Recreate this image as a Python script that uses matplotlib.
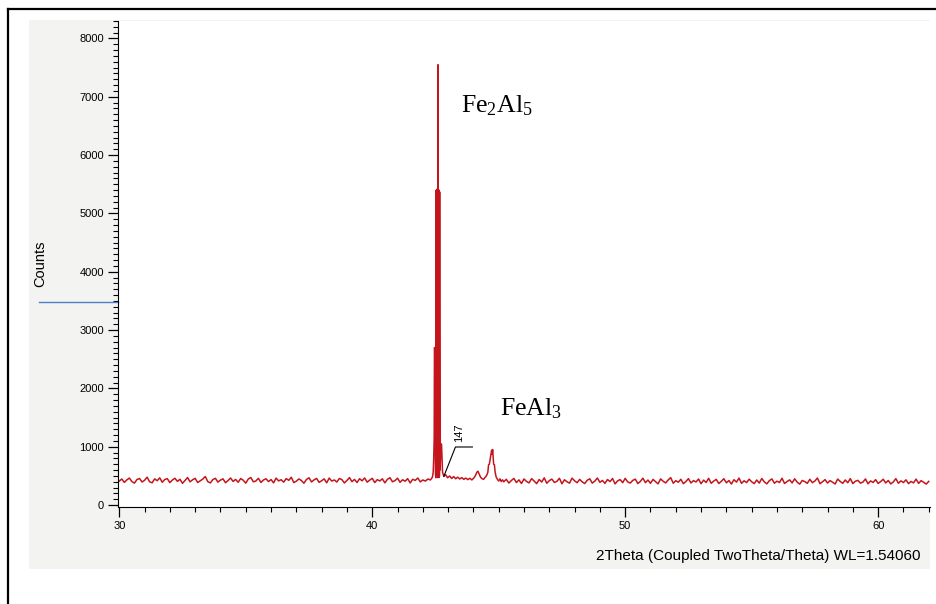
import numpy as np
import matplotlib
matplotlib.use("Agg")
from matplotlib import pyplot as plt
from matplotlib.patches import Rectangle
from matplotlib.lines import Line2D
from matplotlib.ticker import MultipleLocator

plt.rcParams['font.family'] = ['Liberation Sans', 'DejaVu Sans']
plt.rcParams['mathtext.fontset'] = 'custom'
plt.rcParams['mathtext.rm'] = 'Liberation Serif'
plt.rcParams['mathtext.it'] = 'Liberation Serif:italic'

# scan: background before main peak (30.0 .. 42.2, step 0.1)
start_a, step = 30.0, 0.1
counts_a = [
    410, 446, 388, 431, 462, 402, 376, 437, 455, 395,
    424, 478, 399, 381, 448, 417, 466, 390, 438, 452,
    384, 428, 459, 405, 441, 372, 421, 471, 398, 433,
    457, 386, 415, 444, 489, 401, 379, 436, 458, 393,
    427, 449, 382, 419, 463, 404, 439, 390, 454, 425,
    375, 445, 472, 398, 412, 458, 387, 429, 450, 402,
    437, 380, 461, 414, 434, 392, 453, 423, 476, 385,
    409, 447, 420, 374, 438, 467, 396, 431, 456, 389,
    416, 448, 381, 462, 411, 430, 394, 455, 436, 378,
    421, 470, 400, 439, 386, 451, 415, 464, 392, 427,
    457, 385, 435, 413, 449, 380, 440, 468, 399, 418,
    460, 390, 433, 408, 452, 379, 441, 422, 463, 397,
    430, 411, 446]

# peak region (Fe2Al5 at ~42.6, FeAl3 at ~44.75)
theta_peak = [42.30, 42.34, 42.38, 42.41, 42.43, 42.45, 42.46, 42.48, 42.50, 42.52,
              42.53, 42.545, 42.555, 42.565, 42.575, 42.585, 42.595, 42.60, 42.605, 42.615,
              42.625, 42.635, 42.645, 42.655, 42.665, 42.68, 42.72, 42.74, 42.78, 42.83,
              42.90, 42.98, 43.06, 43.14, 43.22, 43.30, 43.38, 43.46, 43.54, 43.62,
              43.70, 43.78, 43.86, 43.94, 44.02, 44.08, 44.14, 44.18, 44.22, 44.28,
              44.34, 44.40, 44.46, 44.52, 44.57, 44.60, 44.63, 44.66, 44.69, 44.72,
              44.74, 44.76, 44.78, 44.80, 44.83, 44.86, 44.90, 44.95, 45.00, 45.05,
              45.10, 45.15]
counts_peak = [430, 452, 478, 560, 780, 1150, 2700, 2680, 520, 470,
               5400, 480, 5410, 470, 5420, 490, 5400, 7550, 5390, 480,
               5380, 470, 5400, 490, 5370, 600, 1050, 1040, 560, 495,
               520, 468, 498, 455, 488, 450, 478, 446, 470, 440,
               462, 436, 458, 430, 466, 505, 565, 580, 540, 478,
               452, 440, 472, 505, 560, 690, 700, 780, 860, 940,
               870, 950, 820, 700, 690, 560, 480, 440, 412, 448,
               402, 432]

# background after peaks (45.2 .. 62.0, step 0.1)
start_b = 45.2
counts_b = [
    398, 441, 377, 420, 456, 385, 431, 369, 447, 404,
    380, 452, 412, 366, 438, 394, 466, 373, 418, 445,
    387, 406, 458, 364, 433, 399, 375, 461, 415, 382,
    440, 397, 368, 425, 449, 376, 410, 463, 389, 421,
    371, 437, 402, 454, 362, 414, 436, 383, 457, 396,
    377, 422, 444, 368, 405, 460, 384, 428, 372, 439,
    400, 363, 448, 408, 379, 430, 469, 374, 417, 391,
    441, 366, 403, 452, 378, 419, 395, 446, 365, 427,
    386, 458, 373, 411, 440, 369, 406, 451, 381, 420,
    360, 434, 393, 462, 371, 416, 384, 443, 399, 367,
    429, 376, 455, 397, 363, 418, 447, 374, 409, 386,
    459, 369, 403, 431, 379, 450, 392, 358, 421, 401,
    372, 441, 383, 412, 463, 366, 398, 436, 377, 419,
    390, 361, 445, 405, 372, 429, 382, 453, 368, 408,
    423, 375, 394, 447, 364, 413, 387, 435, 370, 402,
    442, 378, 420, 362, 396, 452, 373, 414, 385, 432,
    367, 404, 380, 444, 371, 418, 390, 359, 405]

theta = np.concatenate([start_a + step*np.arange(len(counts_a)),
                        np.array(theta_peak),
                        start_b + step*np.arange(len(counts_b))])
counts = np.concatenate([counts_a, counts_peak, counts_b])

W, H = 937, 604
fig = plt.figure(figsize=(W/100, H/100), dpi=100)

# outer frame and grey panel
fig.add_artist(Line2D([8/W, 1.0], [1-9/H, 1-9/H], color='black', lw=1.6))
fig.add_artist(Line2D([8/W, 8/W], [0.0, 1-9/H], color='black', lw=1.6))
fig.add_artist(Rectangle((29/W, 1-569/H), 901/W, 549/H, facecolor='#f3f3f1',
                         edgecolor='none', zorder=-1))

ax = fig.add_axes([118/W, 1-507/H, 812/W, 486/H])
ax.plot(theta, counts, color='#c4141c', lw=1.1)

ax.set_xlim(29.95, 62.05)
ax.set_ylim(-34, 8300)
ax.spines['top'].set_visible(False)
ax.spines['right'].set_visible(False)
ax.xaxis.set_major_locator(MultipleLocator(10))
ax.xaxis.set_minor_locator(MultipleLocator(1))
ax.yaxis.set_major_locator(MultipleLocator(1000))
ax.yaxis.set_minor_locator(MultipleLocator(100))
ax.tick_params(which='major', length=7, width=0.9, labelsize=8, pad=3)
ax.tick_params(which='minor', length=3.5, width=0.8)

ax.set_ylabel('Counts', fontsize=10.5)
ax.yaxis.set_label_coords(-0.087, 0.50)
ax.set_xlabel('2Theta (Coupled TwoTheta/Theta) WL=1.54060', fontsize=11, ha='right')
ax.xaxis.set_label_coords(0.988, -0.086)

# blue marker line left of the axis
ax.plot([-0.097, 0.0], [0.422, 0.422], transform=ax.transAxes, color='#4f7fc8',
        lw=1.0, clip_on=False)

# peak labels
ax.text(43.5, 6740, r'Fe$_2$Al$_5$', fontsize=18.5, color='black',
        family='Liberation Serif', va='baseline')
ax.text(45.07, 1545, r'FeAl$_3$', fontsize=18.5, color='black',
        family='Liberation Serif', va='baseline')

# marker "147"
ax.plot([42.83, 43.29, 43.96], [490, 995, 995], color='black', lw=0.8)
ax.text(43.45, 1240, '147', rotation=90, fontsize=8, ha='center', va='center')

fig.savefig('out.png', dpi=100)
